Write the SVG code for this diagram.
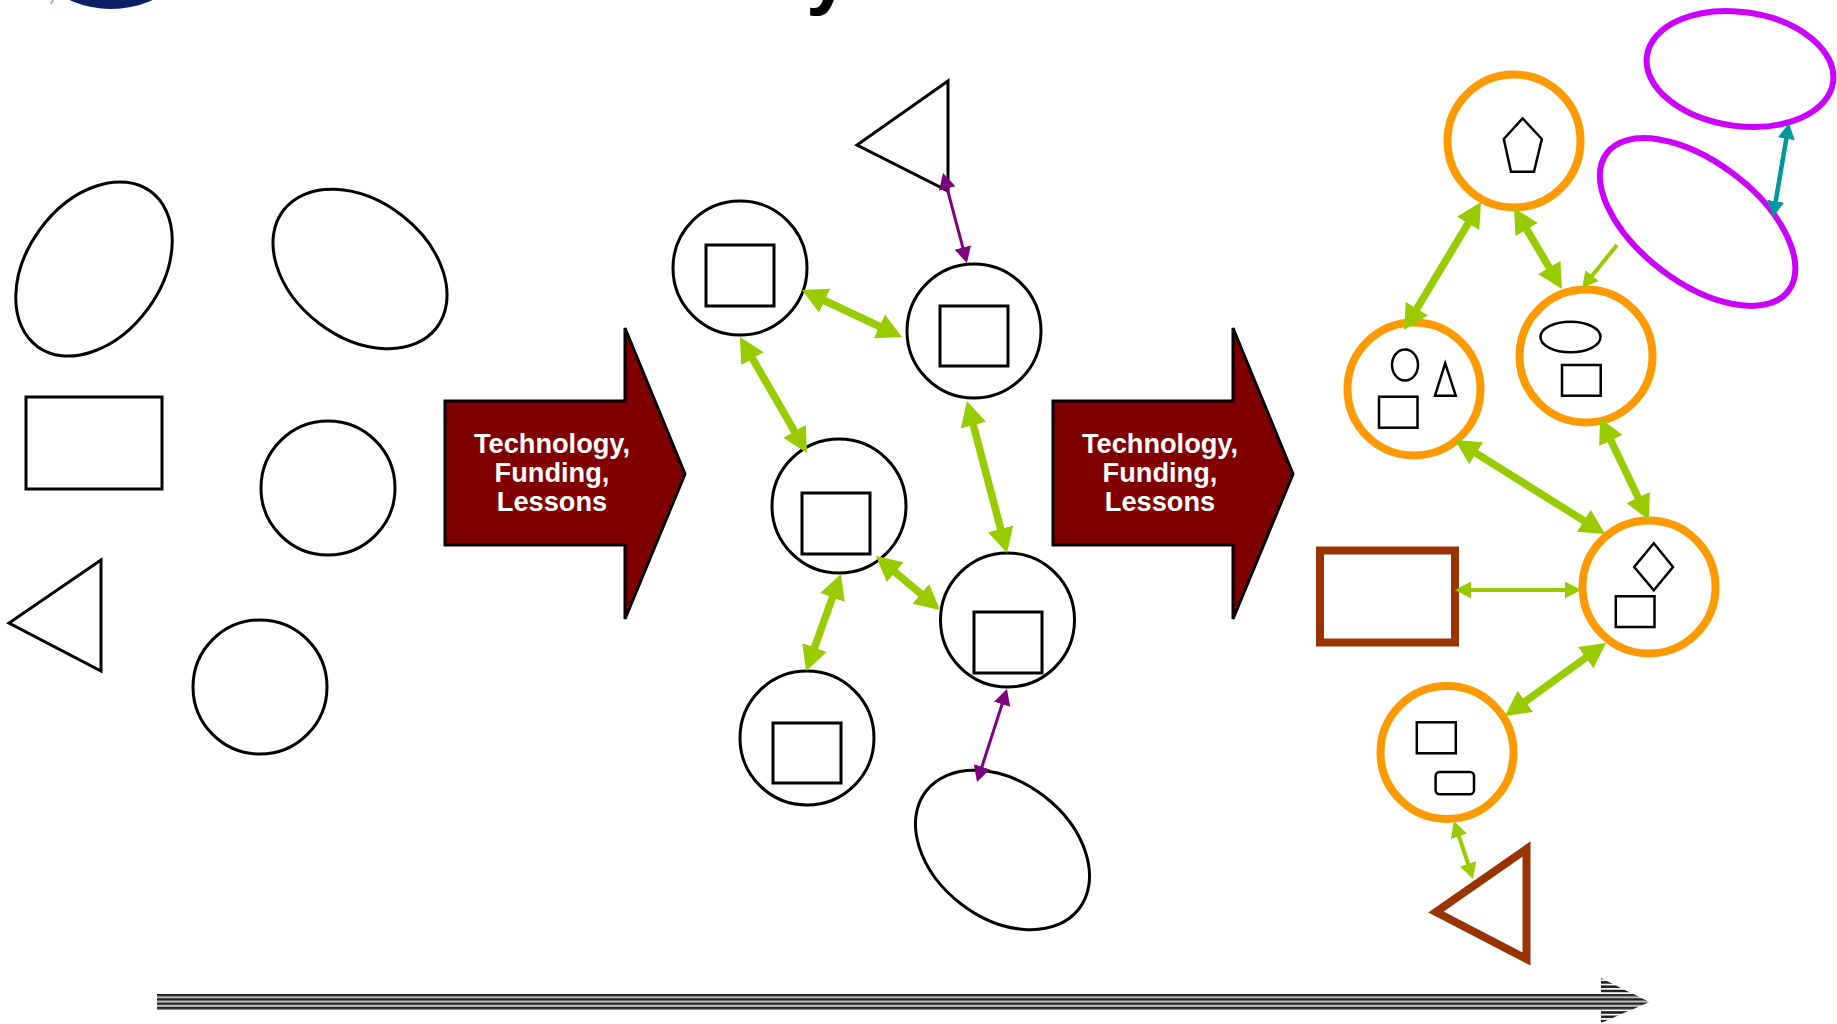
<svg xmlns="http://www.w3.org/2000/svg" width="1837" height="1024" viewBox="0 0 1837 1024">
<style>
.k{fill:#fff;stroke:#000;stroke-width:3}
.s{fill:#fff;stroke:#000;stroke-width:2.5}
.o{fill:#fff;stroke:#f90;stroke-width:8}
.b{fill:#fff;stroke:#930;stroke-width:8}
.m{fill:none;stroke:#c0f;stroke-width:6}
.g6{fill:none;stroke:#9c0;stroke-width:7.5}
.g3{fill:none;stroke:#9c0;stroke-width:4}
.p{fill:none;stroke:#800080;stroke-width:3}
.t{fill:none;stroke:#099;stroke-width:4.5}
.a{fill:#800000;stroke:#000;stroke-width:3}
.l{fill:#fff;font:bold 27.2px "Liberation Sans",Arial,sans-serif;text-anchor:middle}
</style>
<defs>
<marker id="gs" markerUnits="userSpaceOnUse" markerWidth="28" markerHeight="28" refX="5" refY="14" orient="auto-start-reverse"><path d="M0,1 L25,14 L0,27 Z" fill="#9c0"/></marker>
<marker id="gm" markerUnits="userSpaceOnUse" markerWidth="18" markerHeight="18" refX="3" refY="9" orient="auto-start-reverse"><path d="M0,0.5 L16,9 L0,17.5 Z" fill="#9c0"/></marker>
<marker id="pm" markerUnits="userSpaceOnUse" markerWidth="18" markerHeight="18" refX="3" refY="9" orient="auto-start-reverse"><path d="M0,0.5 L16,9 L0,17.5 Z" fill="#800080"/></marker>
<marker id="tm" markerUnits="userSpaceOnUse" markerWidth="18" markerHeight="18" refX="3" refY="9" orient="auto-start-reverse"><path d="M0,0.5 L16,9 L0,17.5 Z" fill="#099"/></marker>
<pattern id="st" patternUnits="userSpaceOnUse" width="4" height="4.3" y="994"><rect width="4" height="4.3" fill="#bbb"/><rect width="4" height="2.200" fill="#222"/></pattern>
<pattern id="sh" patternUnits="userSpaceOnUse" width="4" height="4.3" y="994"><rect width="4" height="2.600" fill="#222"/></pattern>
</defs>
<g id="logo"><circle cx="111" cy="-91" r="100" fill="#0b1f66"/><path d="M53,0 L51,4" fill="none" stroke="#f08080" stroke-width="1.5"/></g>
<text id="title-tail" x="806" y="-1" font-family="Liberation Sans, sans-serif" font-weight="bold" font-size="80">y</text>

<g id="a-ellipse1"><ellipse class="k" cx="94" cy="269" rx="96" ry="67" transform="rotate(-54 94 269)"/></g>
<g id="a-ellipse2"><ellipse class="k" cx="360" cy="269" rx="96.500" ry="68" transform="rotate(37.500 360 269)"/></g>
<g id="a-rect"><rect class="k" x="26" y="397" width="136" height="92"/></g>
<g id="a-circle1"><circle class="k" cx="328" cy="488" r="67"/></g>
<g id="a-tri"><path class="k" d="M101,560 L9,623 L101,671 Z"/></g>
<g id="a-circle2"><circle class="k" cx="260" cy="687" r="67"/></g>

<g id="arrow1"><path class="a" d="M445,401 H625 V328 L685,474 L625,619 V545 H445 Z"/><text class="l"><tspan x="552" y="453">Technology,</tspan><tspan x="552" y="482">Funding,</tspan><tspan x="552" y="511">Lessons</tspan></text></g>
<g id="arrow2"><path class="a" d="M1053,401 H1233 V328 L1293,474 L1233,619 V545 H1053 Z"/><text class="l"><tspan x="1160" y="453">Technology,</tspan><tspan x="1160" y="482">Funding,</tspan><tspan x="1160" y="511">Lessons</tspan></text></g>

<g id="b-tri"><path class="k" d="M948,81 L857,145 L948,191 Z"/></g>
<g id="b1"><circle class="k" cx="740" cy="268" r="67"/><rect class="k" x="706" y="245" width="68" height="61"/></g>
<g id="b2"><circle class="k" cx="974" cy="331" r="67"/><rect class="k" x="940" y="306" width="68" height="60"/></g>
<g id="b3"><circle class="k" cx="839" cy="506" r="67"/><rect class="k" x="802" y="493" width="68" height="61"/></g>
<g id="b4"><circle class="k" cx="1007.500" cy="620" r="67"/><rect class="k" x="974" y="612" width="68" height="61"/></g>
<g id="b5"><circle class="k" cx="807" cy="738" r="67"/><rect class="k" x="773" y="723" width="68" height="60"/></g>
<g id="b-ellipse"><ellipse class="k" cx="1002.500" cy="850" rx="96.500" ry="68" transform="rotate(37.500 1002.500 850)"/></g>

<g id="c1"><circle class="o" cx="1514" cy="141" r="66.500"/><path class="s" d="M1522.600,118.300 L1541.800,139 L1534,171.700 L1511,171.700 L1503.800,139 Z"/></g>
<g id="c2"><circle class="o" cx="1414" cy="389" r="66.500"/><ellipse class="s" cx="1405" cy="365" rx="13" ry="15.500"/><path class="s" d="M1445.200,363.300 L1435,395.700 L1455.800,395.700 Z"/><rect class="s" x="1379" y="396.700" width="38.500" height="31"/></g>
<g id="c3"><circle class="o" cx="1586" cy="356" r="66.500"/><ellipse class="s" cx="1570.500" cy="337" rx="30" ry="15.300"/><rect class="s" x="1562" y="365" width="38.700" height="30.700"/></g>
<g id="c4"><circle class="o" cx="1649" cy="587" r="66.500"/><path class="s" d="M1653.800,543.300 L1673,567 L1653.800,590.300 L1634.200,567 Z"/><rect class="s" x="1615.800" y="596.300" width="38.700" height="30.700"/></g>
<g id="c5"><circle class="o" cx="1447" cy="752.500" r="66.500"/><rect class="s" x="1416.800" y="722.300" width="39" height="31"/><rect class="s" x="1435.600" y="772" width="38.400" height="22.300" rx="4"/></g>
<g id="c-rect"><rect class="b" x="1320" y="550.500" width="135" height="92"/></g>
<g id="c-tri"><path class="b" d="M1526.500,849 L1436,912 L1526.500,959 Z"/></g>
<g id="c-ell1"><ellipse class="m" cx="1740" cy="69" rx="94" ry="57" transform="rotate(8 1740 69)"/></g>
<g id="c-ell2"><ellipse class="m" cx="1697.600" cy="222" rx="114" ry="60" transform="rotate(37.200 1697.600 222)"/></g>

<g id="timeline"><path fill="url(#sh)" d="M1601,978 L1649,1002 L1601,1023 Z"/><path fill="url(#st)" d="M157,994 H1633 L1649,1002 L1631,1010 H157 Z"/></g>

<g id="connectors">
<line class="g6" x1="820.100" y1="298.500" x2="883.900" y2="328.500" marker-start="url(#gs)" marker-end="url(#gs)"/>
<line class="g6" x1="750" y1="354.300" x2="797" y2="435.700" marker-start="url(#gs)" marker-end="url(#gs)"/>
<line class="g6" x1="972.100" y1="420.300" x2="1001.900" y2="533.700" marker-start="url(#gs)" marker-end="url(#gs)"/>
<line class="g6" x1="891.300" y1="568.900" x2="924.700" y2="597.100" marker-start="url(#gs)" marker-end="url(#gs)"/>
<line class="g6" x1="834.200" y1="592.800" x2="812.800" y2="652.200" marker-start="url(#gs)" marker-end="url(#gs)"/>
<line class="p" x1="946.400" y1="185.600" x2="963.600" y2="250.400" marker-start="url(#pm)" marker-end="url(#pm)"/>
<line class="p" x1="1003" y1="701.400" x2="981" y2="769.600" marker-start="url(#pm)" marker-end="url(#pm)"/>
<line class="g6" x1="1470.700" y1="219.100" x2="1414.300" y2="312.900" marker-start="url(#gs)" marker-end="url(#gs)"/>
<line class="g6" x1="1524.200" y1="225.200" x2="1551.800" y2="271.800" marker-start="url(#gs)" marker-end="url(#gs)"/>
<line class="g3" x1="1617" y1="245" x2="1590.200" y2="277.900" marker-end="url(#gm)"/>
<line class="g6" x1="1471.900" y1="450.600" x2="1588.100" y2="523.400" marker-start="url(#gs)" marker-end="url(#gs)"/>
<line class="g6" x1="1608.700" y1="436" x2="1640.300" y2="502" marker-start="url(#gs)" marker-end="url(#gs)"/>
<line class="g3" x1="1468" y1="590" x2="1568" y2="590" marker-start="url(#gm)" marker-end="url(#gm)"/>
<line class="g6" x1="1589.800" y1="654.700" x2="1521.200" y2="704.300" marker-start="url(#gs)" marker-end="url(#gs)"/>
<line class="g3" x1="1458" y1="833.400" x2="1469" y2="866.600" marker-start="url(#gm)" marker-end="url(#gm)"/>
<line class="t" x1="1786.800" y1="135.800" x2="1775.200" y2="204.200" marker-start="url(#tm)" marker-end="url(#tm)"/>
</g>
</svg>
